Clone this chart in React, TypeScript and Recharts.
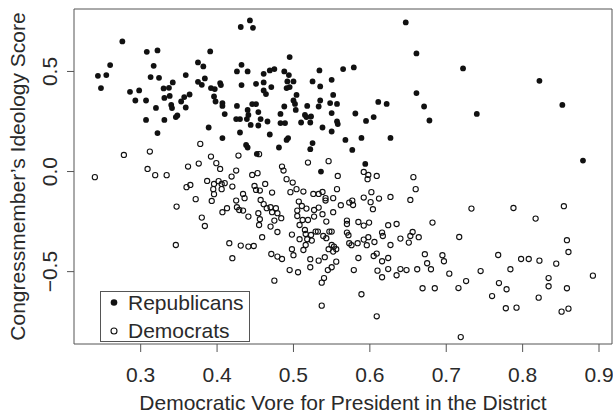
import { ScatterChart, Scatter, XAxis, YAxis, ReferenceArea, Legend, Label } from "recharts";

// Republicans (filled dots)
const repX = [
  0.276, 0.244, 0.255, 0.26, 0.248, 0.308, 0.322, 0.317, 0.313, 0.324, 0.286, 0.298, 0.293, 0.307, 0.32, 0.307,
  0.331, 0.322, 0.33, 0.337, 0.342, 0.331, 0.338, 0.34, 0.341, 0.346, 0.348, 0.359, 0.353, 0.357, 0.364, 0.359,
  0.375, 0.382, 0.375, 0.38, 0.384, 0.391, 0.392, 0.397, 0.396, 0.398, 0.404, 0.405, 0.407, 0.407, 0.41, 0.389,
  0.407, 0.431, 0.443, 0.447, 0.432, 0.426, 0.44, 0.432, 0.426, 0.425, 0.43, 0.43, 0.44, 0.441, 0.439, 0.444,
  0.446, 0.451, 0.451, 0.454, 0.457, 0.454, 0.438, 0.44, 0.452, 0.461, 0.461, 0.469, 0.475, 0.461, 0.464, 0.471,
  0.466, 0.469, 0.481, 0.488, 0.495, 0.494, 0.492, 0.5, 0.491, 0.495, 0.504, 0.5, 0.502, 0.503, 0.488, 0.483,
  0.483, 0.489, 0.493, 0.491, 0.51, 0.518, 0.515, 0.517, 0.523, 0.522, 0.525, 0.534, 0.535, 0.535, 0.533, 0.538,
  0.55, 0.552, 0.548, 0.55, 0.557, 0.557, 0.55, 0.525, 0.522, 0.536, 0.647, 0.661, 0.565, 0.579, 0.722, 0.822,
  0.661, 0.611, 0.622, 0.671, 0.852, 0.558, 0.581, 0.605, 0.595, 0.678, 0.74, 0.568, 0.589, 0.627, 0.577, 0.594,
  0.879,
];
const repY = [
  0.65, 0.478, 0.482, 0.532, 0.417, 0.598, 0.605, 0.528, 0.472, 0.468, 0.398, 0.405, 0.355, 0.355, 0.318, 0.258,
  0.258, 0.192, 0.415, 0.418, 0.445, 0.368, 0.378, 0.333, 0.317, 0.272, 0.28, 0.482, 0.35, 0.372, 0.385, 0.32,
  0.545, 0.525, 0.448, 0.433, 0.465, 0.6, 0.417, 0.412, 0.375, 0.35, 0.442, 0.432, 0.342, 0.328, 0.287, 0.22,
  0.167, 0.722, 0.755, 0.718, 0.533, 0.5, 0.5, 0.432, 0.328, 0.262, 0.262, 0.195, 0.308, 0.283, 0.262, 0.233,
  0.337, 0.337, 0.438, 0.297, 0.262, 0.23, 0.133, 0.12, 0.088, 0.488, 0.445, 0.505, 0.512, 0.405, 0.387, 0.422,
  0.25, 0.185, 0.12, 0.5, 0.572, 0.482, 0.45, 0.45, 0.417, 0.422, 0.383, 0.355, 0.338, 0.308, 0.325, 0.288,
  0.242, 0.242, 0.167, 0.158, 0.245, 0.328, 0.283, 0.272, 0.275, 0.245, 0.45, 0.505, 0.425, 0.355, 0.325, 0.22,
  0.458, 0.383, 0.342, 0.292, 0.338, 0.25, 0.2, 0.142, 0.112, 0.0, 0.745, 0.59, 0.512, 0.52, 0.515, 0.453,
  0.392, 0.348, 0.338, 0.325, 0.333, 0.237, 0.29, 0.272, 0.253, 0.255, 0.288, 0.158, 0.168, 0.168, 0.108, 0.038,
  0.055,
];

// Democrats (open circles)
const demX = [
  0.378, 0.24, 0.278, 0.312, 0.309, 0.319, 0.334, 0.347, 0.346, 0.362, 0.376, 0.36, 0.365, 0.372, 0.38, 0.384,
  0.392, 0.399, 0.404, 0.387, 0.396, 0.402, 0.406, 0.41, 0.395, 0.406, 0.396, 0.393, 0.413, 0.407, 0.416, 0.42,
  0.419, 0.425, 0.428, 0.42, 0.425, 0.434, 0.436, 0.426, 0.429, 0.434, 0.441, 0.431, 0.441, 0.448, 0.446, 0.453,
  0.455, 0.449, 0.451, 0.456, 0.463, 0.472, 0.457, 0.461, 0.465, 0.47, 0.477, 0.454, 0.456, 0.455, 0.472, 0.479,
  0.484, 0.475, 0.47, 0.479, 0.459, 0.471, 0.479, 0.485, 0.475, 0.485, 0.487, 0.491, 0.499, 0.496, 0.504, 0.513,
  0.519, 0.546, 0.507, 0.511, 0.505, 0.517, 0.526, 0.533, 0.538, 0.542, 0.542, 0.533, 0.527, 0.538, 0.552, 0.552,
  0.557, 0.558, 0.505, 0.512, 0.519, 0.527, 0.508, 0.515, 0.516, 0.523, 0.529, 0.532, 0.543, 0.547, 0.55, 0.498,
  0.508, 0.518, 0.524, 0.539, 0.543, 0.516, 0.513, 0.498, 0.5, 0.522, 0.533, 0.522, 0.541, 0.55, 0.553, 0.546,
  0.556, 0.552, 0.55, 0.545, 0.556, 0.495, 0.506, 0.54, 0.537, 0.537,
  0.592, 0.598, 0.597, 0.609, 0.657, 0.66, 0.653, 0.602, 0.592, 0.612, 0.627, 0.601, 0.604, 0.573, 0.577, 0.578,
  0.562, 0.57, 0.57, 0.585, 0.592, 0.599, 0.624, 0.635, 0.57, 0.572, 0.592, 0.598, 0.606, 0.616, 0.617, 0.64,
  0.656, 0.653, 0.651, 0.664, 0.682, 0.717, 0.733, 0.788, 0.817, 0.854, 0.858, 0.86, 0.573, 0.576, 0.584, 0.596,
  0.627, 0.585, 0.605, 0.609, 0.616, 0.624, 0.579, 0.61, 0.624, 0.616, 0.64, 0.648, 0.635, 0.662, 0.672, 0.675,
  0.68, 0.695, 0.697, 0.704, 0.669, 0.685, 0.716, 0.726, 0.745, 0.768, 0.784, 0.769, 0.76, 0.779, 0.778, 0.792,
  0.798, 0.808, 0.822, 0.844, 0.834, 0.834, 0.821, 0.858, 0.851, 0.86, 0.892, 0.589, 0.609, 0.719,
];
const demY = [
  0.138, -0.028, 0.083, 0.1, 0.013, -0.018, -0.018, -0.175, -0.367, 0.025, 0.04, -0.078, -0.067, -0.138, -0.23, -0.272,
  0.075, 0.042, 0.013, -0.047, -0.062, -0.048, -0.062, -0.058, -0.088, -0.088, -0.113, -0.147, -0.183, -0.203, -0.358, -0.433,
  -0.025, 0.005, 0.08, -0.075, -0.145, -0.112, -0.133, -0.178, -0.192, -0.195, -0.225, -0.37, -0.375, -0.372, -0.017, -0.008,
  0.087, -0.072, -0.092, -0.095, -0.062, -0.105, -0.142, -0.163, -0.183, -0.178, -0.183, -0.208, -0.238, -0.267, -0.203, -0.208,
  -0.233, -0.245, -0.275, -0.302, -0.328, -0.412, -0.425, -0.437, -0.545, 0.025, 0.005, -0.038, -0.055, -0.103, -0.088, -0.1,
  0.045, 0.052, -0.15, -0.172, -0.195, -0.185, -0.112, -0.112, -0.102, -0.133, -0.145, -0.18, -0.192, -0.213, -0.133, -0.203,
  -0.088, -0.022, -0.222, -0.242, -0.242, -0.225, -0.267, -0.292, -0.312, -0.317, -0.3, -0.3, -0.25, -0.3, -0.3, -0.315,
  -0.338, -0.338, -0.345, -0.322, -0.333, -0.367, -0.392, -0.388, -0.418, -0.438, -0.445, -0.478, -0.428, -0.367, -0.375, -0.388,
  -0.388, -0.4, -0.478, -0.492, -0.45, -0.492, -0.503, -0.532, -0.555, -0.67,
  -0.002, -0.017, -0.038, -0.022, -0.028, -0.088, -0.142, -0.103, -0.13, -0.135, -0.127, -0.153, -0.188, -0.155, -0.145, -0.167,
  -0.168, -0.245, -0.262, -0.252, -0.27, -0.255, -0.268, -0.262, -0.305, -0.318, -0.34, -0.328, -0.352, -0.305, -0.322, -0.335,
  -0.302, -0.322, -0.355, -0.328, -0.255, -0.327, -0.185, -0.182, -0.235, -0.173, -0.343, -0.402, -0.358, -0.368, -0.358, -0.368,
  -0.367, -0.432, -0.422, -0.41, -0.448, -0.432, -0.492, -0.495, -0.487, -0.528, -0.487, -0.492, -0.518, -0.488, -0.413, -0.458,
  -0.488, -0.418, -0.448, -0.51, -0.583, -0.583, -0.582, -0.547, -0.497, -0.417, -0.488, -0.557, -0.622, -0.588, -0.683, -0.68,
  -0.437, -0.437, -0.445, -0.46, -0.532, -0.573, -0.63, -0.583, -0.7, -0.685, -0.52, -0.613, -0.723, -0.827,
];

const xTicks = [0.3, 0.4, 0.5, 0.6, 0.7, 0.8, 0.9];
const yTicks = [-0.5, 0, 0.5];
const xDomain = [0.2127, 0.917];
const yDomain = [-0.8615, 0.812];

const republicans = repX.map((x, i) => ({ x, y: repY[i] }));
const democrats = demX.map((x, i) => ({ x, y: demY[i] }));

const FONT = "'Liberation Sans', Arial, Helvetica, sans-serif";
const INK = "#2a2a2a";
const FRAME = "#555";

const FilledDot = (p: any) => <circle cx={p.cx} cy={p.cy} r={2.9} fill="#111" />;
const OpenDot = (p: any) => <circle cx={p.cx} cy={p.cy} r={2.6} fill="none" stroke="#111" strokeWidth={1.1} />;

const XTick = (p: any) => (
  <text x={p.x} y={p.y + 28} textAnchor="middle" fontSize={21} fontFamily={FONT} fill={INK}>
    {p.payload.value.toFixed(1)}
  </text>
);

const YTick = (p: any) => {
  const v = p.payload.value;
  const label = v < 0 ? "\u2212" + Math.abs(v).toFixed(1) : v.toFixed(1);
  const x = p.x - 8;
  return (
    <text x={x} y={p.y} transform={`rotate(-90, ${x}, ${p.y})`} textAnchor="middle" fontSize={21} fontFamily={FONT} fill={INK}>
      {label}
    </text>
  );
};

const YTitle = (p: any) => {
  const vb = p.viewBox || { x: 0, y: 9, width: 74, height: 335 };
  const x = vb.x + 25;
  const y = vb.y + vb.height / 2;
  return (
    <text x={x} y={y} transform={`rotate(-90, ${x}, ${y})`} textAnchor="middle" fontSize={21} fontFamily={FONT} fill={INK}>
      Congressmember’s Ideology Score
    </text>
  );
};

const XTitle = (p: any) => {
  const vb = p.viewBox || { x: 74, y: 344, width: 538, height: 71 };
  return (
    <text x={vb.x + vb.width / 2} y={vb.y + vb.height - 5} textAnchor="middle" fontSize={21} fontFamily={FONT} fill={INK}>
      Democratic Vore for President in the District
    </text>
  );
};

const LegendBox = () => (
  <svg width={150} height={51} style={{ display: "block" }}>
    <rect x={0.5} y={0.5} width={149} height={50} fill="#fff" stroke={FRAME} />
    <circle cx={14} cy={11.5} r={3.3} fill="#111" />
    <circle cx={14} cy={40} r={3} fill="none" stroke="#111" strokeWidth={1.1} />
    <text x={28} y={18.5} fontSize={21} fontFamily={FONT} fill={INK}>Republicans</text>
    <text x={28} y={47.3} fontSize={21} fontFamily={FONT} fill={INK}>Democrats</text>
  </svg>
);

export default function App() {
  return (
    <div style={{ position: "absolute", left: 0, top: 0, width: 613, height: 415, background: "#fff" }}>
      <ScatterChart width={613} height={415} margin={{ top: 9, right: 1, left: 0, bottom: 0 }}>
        <XAxis
          type="number"
          dataKey="x"
          domain={xDomain}
          ticks={xTicks}
          allowDataOverflow
          height={71}
          axisLine={false}
          tickSize={8}
          tickLine={{ stroke: FRAME }}
          tick={XTick}
        >
          <Label content={XTitle} />
        </XAxis>
        <YAxis
          type="number"
          dataKey="y"
          domain={yDomain}
          ticks={yTicks}
          allowDataOverflow
          width={74}
          axisLine={false}
          tickSize={7}
          tickLine={{ stroke: FRAME }}
          tick={YTick}
        >
          <Label content={YTitle} />
        </YAxis>
        <ReferenceArea x1={xDomain[0]} x2={xDomain[1]} y1={yDomain[0]} y2={yDomain[1]} fill="none" stroke={FRAME} strokeWidth={1} fillOpacity={0} />
        <Scatter name="Democrats" data={democrats} shape={OpenDot} isAnimationActive={false} />
        <Scatter name="Republicans" data={republicans} shape={FilledDot} isAnimationActive={false} />
        <Legend
          layout="horizontal"
          align="center"
          verticalAlign="middle"
          content={LegendBox}
          wrapperStyle={{ position: "absolute", left: 100, top: 291, width: 150, height: 51 }}
        />
      </ScatterChart>
    </div>
  );
}
